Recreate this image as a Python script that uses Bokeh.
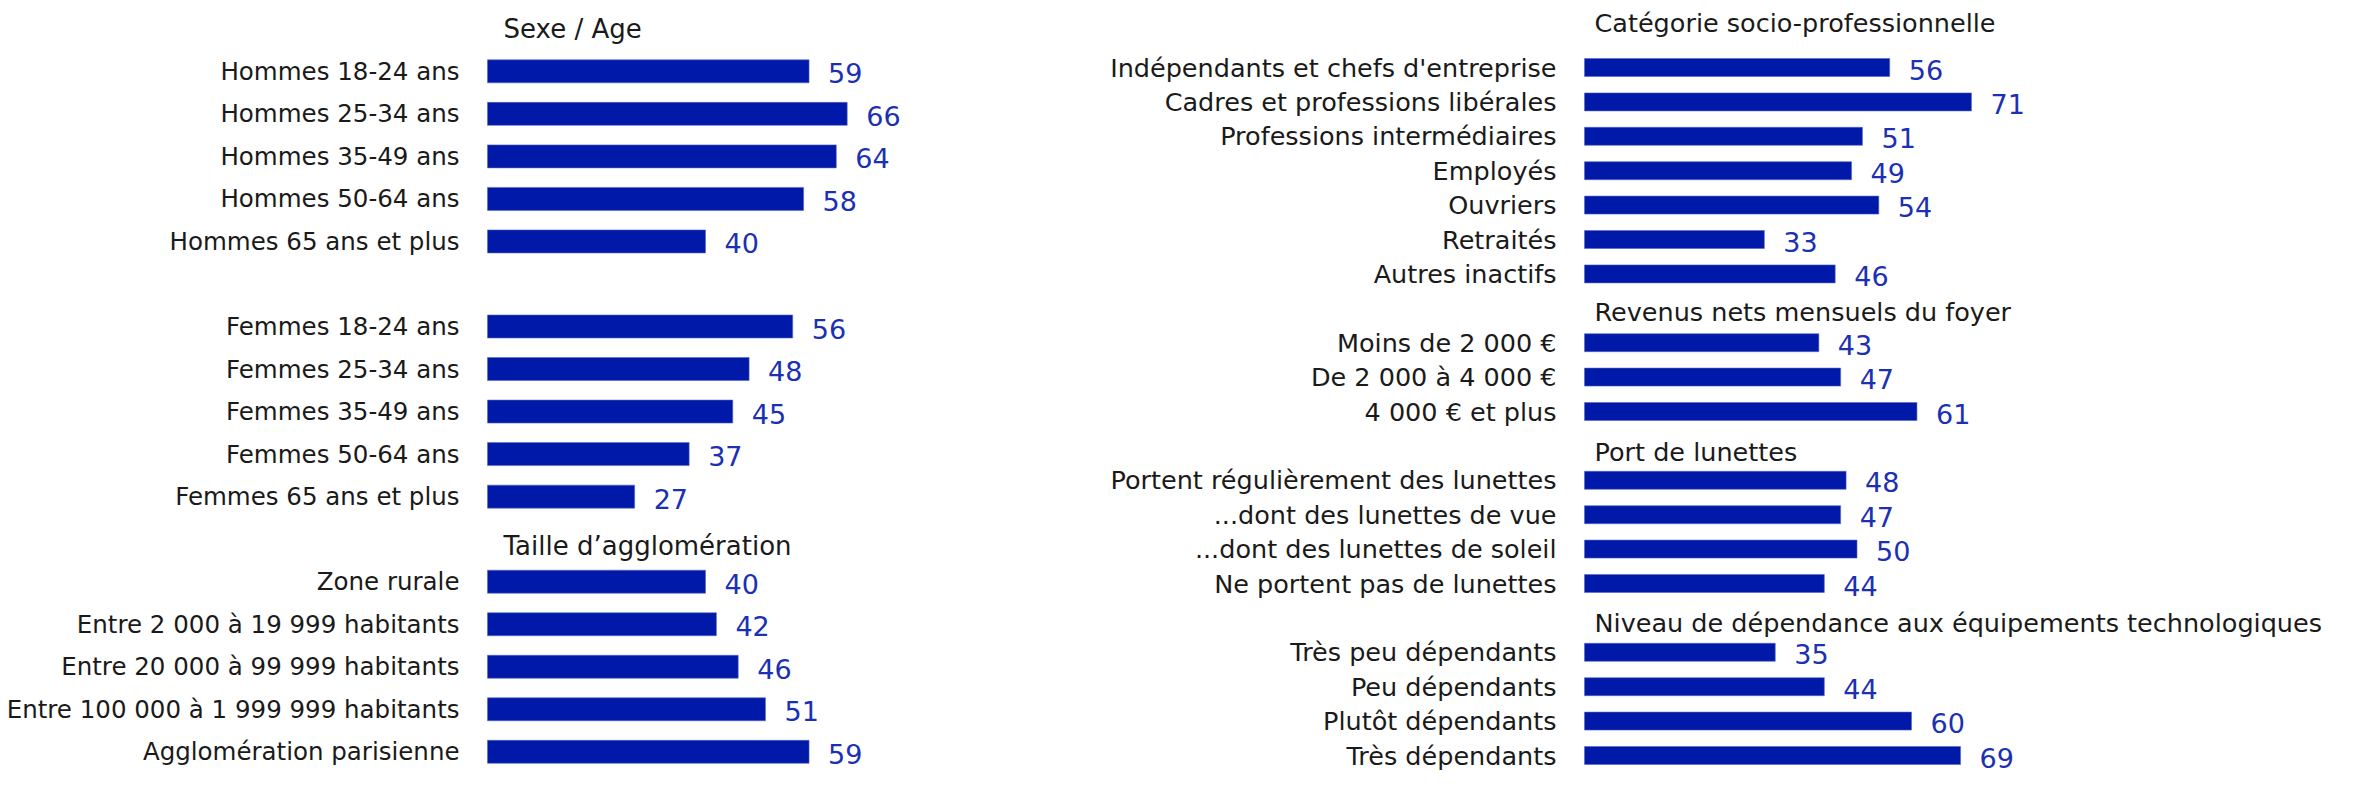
from bokeh.plotting import figure
from bokeh.layouts import row
from bokeh.models import ColumnDataSource, Range1d
from bokeh.core.properties import value
from bokeh.embed import file_html
from bokeh.resources import INLINE

# ---------------- data ----------------
sexe_age_title = "Sexe / Age"
hommes_labels = ["Hommes 18-24 ans", "Hommes 25-34 ans", "Hommes 35-49 ans",
                 "Hommes 50-64 ans", "Hommes 65 ans et plus"]
hommes_values = [59, 66, 64, 58, 40]
femmes_labels = ["Femmes 18-24 ans", "Femmes 25-34 ans", "Femmes 35-49 ans",
                 "Femmes 50-64 ans", "Femmes 65 ans et plus"]
femmes_values = [56, 48, 45, 37, 27]

agglo_title = "Taille d\u2019agglomération"
agglo_labels = ["Zone rurale", "Entre 2 000 à 19 999 habitants",
                "Entre 20 000 à 99 999 habitants",
                "Entre 100 000 à 1 999 999 habitants",
                "Agglomération parisienne"]
agglo_values = [40, 42, 46, 51, 59]

csp_title = "Catégorie socio-professionnelle"
csp_labels = ["Indépendants et chefs d'entreprise", "Cadres et professions libérales",
              "Professions intermédiaires", "Employés", "Ouvriers", "Retraités",
              "Autres inactifs"]
csp_values = [56, 71, 51, 49, 54, 33, 46]

revenus_title = "Revenus nets mensuels du foyer"
revenus_labels = ["Moins de 2 000 €", "De 2 000 à 4 000 €", "4 000 € et plus"]
revenus_values = [43, 47, 61]

lunettes_title = "Port de lunettes"
lunettes_labels = ["Portent régulièrement des lunettes", "...dont des lunettes de vue",
                   "...dont des lunettes de soleil", "Ne portent pas de lunettes"]
lunettes_values = [48, 47, 50, 44]

dep_title = "Niveau de dépendance aux équipements technologiques"
dep_labels = ["Très peu dépendants", "Peu dépendants", "Plutôt dépendants",
              "Très dépendants"]
dep_values = [35, 44, 60, 69]

# ---------------- style ----------------
BAR = "#0019A8"
VAL = "#1b30b3"
TXT = "#1a1a1a"
FONT = value("DejaVu Sans")
H = 775
PX_PER_UNIT = 5.45


def layout_rows(blocks):
    """blocks: list of (kind, payload, slot_shift). Places rows & titles on a slot grid."""
    ys, labels, vals, tys, ttexts = [], [], [], [], []
    slot = 0
    for kind, payload, shift in blocks:
        if kind == "title":
            tys.append(slot + shift)
            ttexts.append(payload)
            slot += 1
        elif kind == "gap":
            slot += payload
        else:
            labs, vs = payload
            for lab, v in zip(labs, vs):
                ys.append(slot)
                labels.append(lab)
                vals.append(v)
                slot += 1
    return ys, labels, vals, tys, ttexts


def make_panel(width, bar_x0, row0, spacing, bar_px, blocks, label_size,
               title_size, title_dx):
    ys, labels, vals, tys, ttexts = layout_rows(blocks)
    x0 = -bar_x0 / PX_PER_UNIT
    x1 = (width - bar_x0) / PX_PER_UNIT
    ytop = -row0 / spacing
    ybot = (H - row0) / spacing
    p = figure(width=width, height=H, x_range=Range1d(x0, x1),
               y_range=Range1d(ybot, ytop), output_backend="svg",
               toolbar_location=None, x_axis_location=None, y_axis_location=None,
               min_border=0, outline_line_color=None)
    p.grid.visible = False
    src = ColumnDataSource(dict(y=ys, v=vals, lab=labels,
                                vt=[str(v) for v in vals]))
    p.hbar(y="y", left=0, right="v", height=bar_px / spacing, source=src,
           fill_color=BAR, line_color="#5566c4", line_width=0.6)
    p.text(x=0, y="y", text="lab", source=src, x_offset=-28,
           text_align="right", text_baseline="middle", text_font=FONT,
           text_font_size=label_size, text_color=TXT)
    p.text(x="v", y="y", text="vt", source=src, x_offset=19, y_offset=2,
           text_align="left", text_baseline="middle", text_font=FONT,
           text_font_size="27px", text_color=VAL)
    tsrc = ColumnDataSource(dict(y=tys, t=ttexts, x=[0] * len(tys)))
    p.text(x="x", y="y", text="t", source=tsrc, x_offset=title_dx,
           text_align="left", text_baseline="middle", text_font=FONT,
           text_font_size=title_size, text_color=TXT)
    return p


left_blocks = [
    ("title", sexe_age_title, 0.0),
    ("rows", (hommes_labels, hommes_values), 0),
    ("gap", 1, 0),
    ("rows", (femmes_labels, femmes_values), 0),
    ("title", agglo_title, 0.17),
    ("rows", (agglo_labels, agglo_values), 0),
]
right_blocks = [
    ("title", csp_title, -0.29),
    ("rows", (csp_labels, csp_values), 0),
    ("title", revenus_title, 0.1),
    ("rows", (revenus_labels, revenus_values), 0),
    ("title", lunettes_title, 0.19),
    ("rows", (lunettes_labels, lunettes_values), 0),
    ("title", dep_title, 0.15),
    ("rows", (dep_labels, dep_values), 0),
]

LW = 1000
left = make_panel(LW, 487, 28.3, 42.53, 23, left_blocks, "24.5px", "26px", 16)
right = make_panel(2342 - LW, 1584 - LW, 32.6, 34.4, 18, right_blocks, "25.5px",
                   "25.5px", 10)

layout = row(left, right)
open("out.html", "w").write(file_html(layout, INLINE))
